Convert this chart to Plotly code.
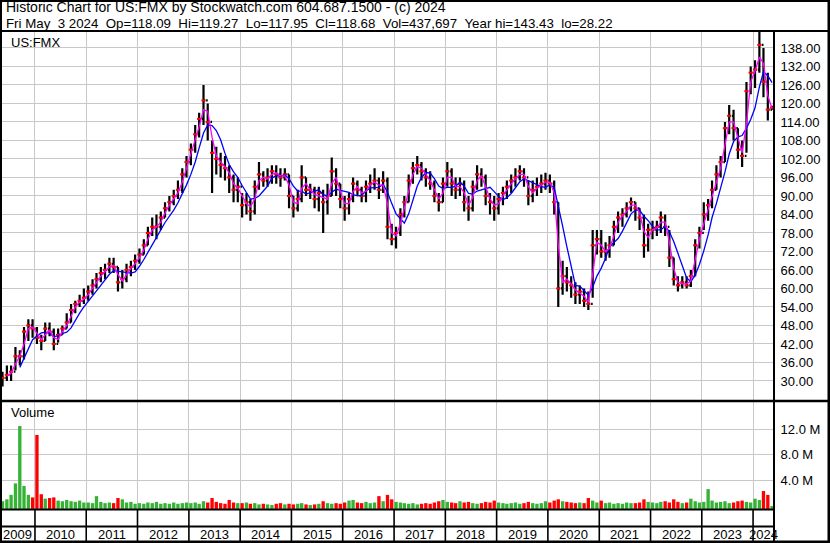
import plotly.graph_objects as go
import pandas as pd

W, H = 830, 543

# ---------------- data (monthly) ----------------
close_2009 = [31, 32, 33, 38, 38, 46, 48, 47]
high_2009 = [33, 35, 35, 41, 40, 47.5, 50, 50]
low_2009 = [28.22, 30, 30, 33.5, 35, 37, 43, 44]
close_2010 = [44, 43, 47, 46, 42, 45, 47, 49, 53, 55, 56, 57]
high_2010 = [47.5, 45, 49, 49, 47, 47, 48, 52, 55, 56, 58, 60]
low_2010 = [42, 40, 43, 44.5, 40, 42.5, 45, 47, 49, 52, 54, 55]
close_2011 = [59, 61, 63, 65, 66, 68, 67, 62, 63, 66, 67, 69]
high_2011 = [61, 63, 65, 67, 68, 70, 70, 67, 66, 68, 69, 71]
low_2011 = [56, 58, 60, 62, 63, 65, 65, 59, 60, 62, 64, 66]
close_2012 = [71, 74, 78, 80, 80, 83, 86, 88, 90, 92, 97, 101]
high_2012 = [73, 76, 80, 83, 84, 85, 88, 90, 92, 95, 99, 103]
low_2012 = [68, 71, 74, 77, 76, 79, 83, 85, 87, 89, 91, 96]
close_2013 = [105, 110, 115, 121, 114, 104, 102, 100, 99, 96, 92, 93]
high_2013 = [107, 113, 117, 126, 120, 108, 106, 104, 103, 100, 97, 96]
low_2013 = [100, 104, 109, 113, 108, 91, 97, 96, 95, 91, 88, 88]
close_2014 = [87, 88, 85, 93, 97, 95, 96, 98, 97, 96, 97, 90]
high_2014 = [91, 91, 89, 95, 101, 98, 99, 100, 100, 99, 99, 97]
low_2014 = [83, 84, 82, 84, 92, 93, 93, 94, 94, 93, 95, 86]
close_2015 = [86, 89, 96, 92, 92, 89, 91, 88, 90, 98, 94, 89]
high_2015 = [90, 92, 100, 96, 94, 93, 93, 92, 94, 102.5, 99, 94]
low_2015 = [83, 85, 88, 90, 89, 86, 85, 78, 84, 90, 90, 86]
close_2016 = [86, 89, 94, 92, 90, 93, 94, 95, 92, 95, 80, 76]
high_2016 = [90, 91, 96, 95, 93, 95, 97, 99, 96, 98, 96, 81]
low_2016 = [82, 84, 88, 90, 88, 88, 91, 92, 89, 91, 76, 74]
close_2017 = [78, 84, 88, 95, 99, 100, 98, 96, 94, 90, 88, 94]
high_2017 = [80, 86, 90, 97, 101, 103, 101, 99, 98, 95, 91, 96]
low_2017 = [73, 77, 83, 88, 94, 97, 95, 93, 92, 88, 85, 88]
close_2018 = [98, 94, 92, 94, 88, 86, 93, 97, 96, 90, 88, 86]
high_2018 = [101, 99, 96, 96, 95, 90, 95, 100, 99, 97, 91, 90]
low_2018 = [93, 90, 89, 90, 85, 82, 85, 92, 93, 87, 84, 82]
close_2019 = [89, 91, 93, 95, 96, 98, 96, 90, 92, 93, 94, 95]
high_2019 = [91, 93, 95, 97, 99, 100, 99, 95, 95, 96, 97, 97.5]
low_2019 = [84, 87, 89, 91, 93, 95, 93, 87, 88, 90, 91, 92]
close_2020 = [94, 88, 60, 64, 62, 61, 58, 59, 56, 55, 74, 76]
high_2020 = [97, 95, 88, 69, 67, 64, 62, 61, 60, 59, 79, 79]
low_2020 = [91, 84, 54, 58, 59, 57, 55, 55, 54, 53, 57, 71]
close_2021 = [72, 72, 74, 80, 83, 84, 86, 88, 86, 83, 74, 79]
high_2021 = [79, 75, 77, 82, 85, 86, 88, 89.5, 88, 86, 84, 81]
low_2021 = [70, 69, 70, 74, 78, 80, 83, 85, 82, 79, 70, 72]
close_2022 = [79, 80, 83, 80, 70, 63, 61, 62, 61, 64, 74, 78]
high_2022 = [82, 82, 85, 84, 79, 70, 64, 64, 64, 66, 76, 80]
low_2022 = [76, 77, 78, 77, 67, 61, 59, 60, 60, 60.5, 64, 73]
close_2023 = [84, 87, 92, 97, 101, 112, 116, 112, 105, 103, 124, 130]
high_2023 = [88, 89, 95, 100, 103, 114, 119.5, 118, 112, 108, 127, 132]
low_2023 = [79, 82, 86, 92, 96, 101, 110, 108, 102, 99.4, 104, 123]
close_2024 = [131, 139, 127, 118, 118.68]
high_2024 = [134, 143.43, 138, 130, 119.27]
low_2024 = [125, 130, 122, 114.5, 117.95]

volume_m = [
    1.2, 1.5, 2.2, 4.0, 13.0, 3.6, 2.2, 1.8,                      # 2009
    11.6, 2.3, 1.6, 1.7, 1.8, 1.3, 1.2, 1.4, 1.2, 1.1, 1.3, 1.0,  # 2010
    1.0, 0.9, 2.0, 1.1, 0.9, 1.0, 0.9, 1.7, 1.5, 1.0, 1.1, 0.8,   # 2011
    0.9, 0.8, 1.0, 0.9, 1.1, 0.8, 0.9, 0.8, 1.0, 0.8, 0.9, 1.0,   # 2012
    0.9, 1.0, 0.8, 1.2, 1.0, 1.7, 1.1, 0.9, 0.8, 1.4, 1.0, 0.9,   # 2013
    0.9, 1.0, 0.8, 0.9, 0.7, 0.8, 0.7, 0.6, 0.8, 0.9, 0.7, 0.8,   # 2014
    0.7, 0.8, 0.9, 0.7, 0.6, 0.7, 0.8, 1.2, 0.9, 0.8, 0.9, 0.8,   # 2015
    1.0, 1.3, 1.4, 1.0, 0.9, 1.1, 0.9, 1.0, 2.0, 1.2, 2.2, 1.5,   # 2016
    1.1, 1.0, 0.9, 0.8, 0.9, 0.7, 0.8, 0.9, 0.8, 1.0, 1.2, 1.4,   # 2017
    1.1, 1.0, 0.9, 1.2, 1.0, 1.1, 0.9, 0.8, 0.9, 1.1, 1.0, 1.3,   # 2018
    1.0, 0.9, 0.8, 0.9, 1.0, 0.8, 0.9, 1.1, 0.9, 0.8, 0.9, 1.2,   # 2019
    1.0, 1.3, 1.5, 1.2, 1.1, 1.0, 0.9, 1.0, 0.9, 1.7, 1.3, 1.0,   # 2020
    1.3, 0.9, 1.0, 0.8, 0.9, 0.8, 1.0, 0.9, 0.9, 1.0, 1.5, 1.1,   # 2021
    1.0, 0.9, 1.1, 1.2, 1.0, 1.5, 1.1, 0.9, 1.0, 1.6, 1.2, 1.0,   # 2022
    1.1, 3.1, 1.3, 1.0, 1.1, 1.2, 0.9, 1.0, 1.2, 1.3, 1.1, 1.0,   # 2023
    1.6, 1.4, 2.8, 2.2, 0.44,                                      # 2024
]

price_ticks = [30, 36, 42, 48, 54, 60, 66, 72, 78, 84, 90, 96, 102, 108, 114, 120, 126, 132, 138]
volume_ticks = [4, 8, 12]
volume_tick_labels = ["4.0 M", "8.0 M", "12.0 M"]
years = list(range(2009, 2025))

title_line1 = "Historic Chart for US:FMX by Stockwatch.com 604.687.1500 - (c) 2024"
title_line2 = ("Fri May  3 2024  Op=118.09  Hi=119.27  Lo=117.95  Cl=118.68  "
               "Vol=437,697  Year hi=143.43  lo=28.22")

# ---------------- assemble ----------------
yrs = [2009, 2010, 2011, 2012, 2013, 2014, 2015, 2016, 2017, 2018, 2019, 2020, 2021, 2022, 2023, 2024]
g = globals()
close = sum([g[f"close_{y}"] for y in yrs], [])
high = sum([g[f"high_{y}"] for y in yrs], [])
low = sum([g[f"low_{y}"] for y in yrs], [])
dates = pd.date_range("2009-05-01", periods=len(close), freq="MS") + pd.Timedelta(days=14)
opens = [29.5] + close[:-1]

s = pd.Series(close, index=dates)
ma_short = s.rolling(2).mean()
ma_long = s.rolling(5).mean()

vol_colors = ["#36b336" if c >= o else "#ff0000" for c, o in zip(close, opens)]

FONT = "Liberation Sans, Arial, sans-serif"
GRID = "#c8c8c8"

x_start, x_end = pd.Timestamp("2009-04-27"), pd.Timestamp("2024-05-29")
year_starts = [pd.Timestamp(f"{y}-01-01") for y in range(2010, 2025)]


def py(pix):
    return 1 - pix / H


def px(pix):
    return pix / W


fig = go.Figure()
fig.add_trace(go.Ohlc(
    x=dates, open=opens, high=high, low=low, close=close,
    increasing=dict(line=dict(color="black", width=2.2)),
    decreasing=dict(line=dict(color="black", width=2.2)),
    tickwidth=0.4, xaxis="x", yaxis="y", showlegend=False, hoverinfo="skip"))
fig.add_trace(go.Scatter(
    x=dates, y=close, mode="markers",
    marker=dict(symbol="line-ew", size=3, line=dict(color="#ff0000", width=2)),
    xaxis="x", yaxis="y", showlegend=False, hoverinfo="skip"))
fig.add_trace(go.Scatter(
    x=dates, y=ma_long, mode="lines", line=dict(color="#0000ff", width=1.3),
    xaxis="x", yaxis="y", showlegend=False, hoverinfo="skip"))
fig.add_trace(go.Scatter(
    x=dates, y=ma_short, mode="lines", line=dict(color="#ff00ff", width=1.3),
    xaxis="x", yaxis="y", showlegend=False, hoverinfo="skip"))
fig.add_trace(go.Bar(
    x=dates, y=volume_m, base=-0.5, marker=dict(color=vol_colors, line=dict(width=0)),
    xaxis="x2", yaxis="y2", showlegend=False, hoverinfo="skip"))

xcommon = dict(type="date", range=[x_start, x_end], tickvals=year_starts,
               showticklabels=False, ticks="", showgrid=True, gridcolor=GRID,
               gridwidth=1, zeroline=False, showline=False, fixedrange=True)

fig.update_layout(
    width=W, height=H, margin=dict(l=0, r=0, t=0, b=0),
    paper_bgcolor="white", plot_bgcolor="white",
    font=dict(family=FONT, size=13, color="black"),
    bargap=0.15, showlegend=False,
    xaxis=dict(domain=[0, px(774)], anchor="y", rangeslider=dict(visible=False), **xcommon),
    xaxis2=dict(domain=[0, px(774)], anchor="y2", matches="x", **xcommon),
    yaxis=dict(domain=[py(401), py(31)], range=[23.5, 143.5], side="right", anchor="x",
               tickvals=price_ticks, ticktext=[f"{v:.2f}" for v in price_ticks],
               ticks="outside", ticklen=3, tickcolor="rgba(0,0,0,0)",
               tickfont=dict(family=FONT, size=13, color="black"),
               showgrid=True, gridcolor=GRID, zeroline=False, showline=False, fixedrange=True),
    yaxis2=dict(domain=[py(509), py(402)], range=[-0.52, 16.27], side="right", anchor="x2",
                tickvals=volume_ticks, ticktext=volume_tick_labels,
                ticks="outside", ticklen=3, tickcolor="rgba(0,0,0,0)",
                tickfont=dict(family=FONT, size=13, color="black"),
                showgrid=True, gridcolor=GRID, zeroline=False, showline=False, fixedrange=True),
)

shapes = []


def hline(y, x0=0, x1=W, w=2):
    shapes.append(dict(type="line", xref="paper", yref="paper", x0=px(x0), x1=px(x1),
                       y0=py(y), y1=py(y), line=dict(color="black", width=w)))


def vline(x, y0, y1, w=2):
    shapes.append(dict(type="line", xref="paper", yref="paper", x0=px(x), x1=px(x),
                       y0=py(y0), y1=py(y1), line=dict(color="black", width=w)))


hline(0.5, w=3)
hline(542, w=3)
vline(0.5, 0, H, w=3)
vline(829, 0, H, w=3)
hline(31)
vline(774, 31, H)
hline(401, w=2.5)
hline(509.5, 0, 774)
hline(526.5, 0, 774)
for ys in year_starts:
    shapes.append(dict(type="line", xref="x", yref="paper", x0=ys, x1=ys,
                       y0=py(542), y1=py(509.5), line=dict(color="black", width=1.6)))
fig.update_layout(shapes=shapes)

ann = [
    dict(text=title_line1, x=px(4), y=py(7.2), size=14),
    dict(text=title_line2.replace(" ", "\u00a0"), x=px(4), y=py(23), size=13.3),
    dict(text="US:FMX", x=px(9), y=py(42), size=13),
    dict(text="Volume", x=px(9), y=py(413), size=13),
]
annotations = []
for a in ann:
    sz = a.pop("size")
    annotations.append(dict(a, xref="paper", yref="paper", xanchor="left", yanchor="middle",
                            showarrow=False, font=dict(family=FONT, size=sz, color="black")))
for y in years:
    a0 = max(pd.Timestamp(f"{y}-01-01"), x_start)
    a1 = min(pd.Timestamp(f"{y + 1}-01-01"), x_end)
    mid = a0 + (a1 - a0) / 2
    annotations.append(dict(text=str(y), x=mid, y=py(534.5), xref="x", yref="paper",
                            xanchor="center", yanchor="middle", showarrow=False,
                            font=dict(family=FONT, size=13, color="black")))
fig.update_layout(annotations=annotations)

fig.write_html("out.html", config={"displayModeBar": False, "staticPlot": True},
               post_script="document.body.style.margin='0';document.body.style.overflow='hidden';")
